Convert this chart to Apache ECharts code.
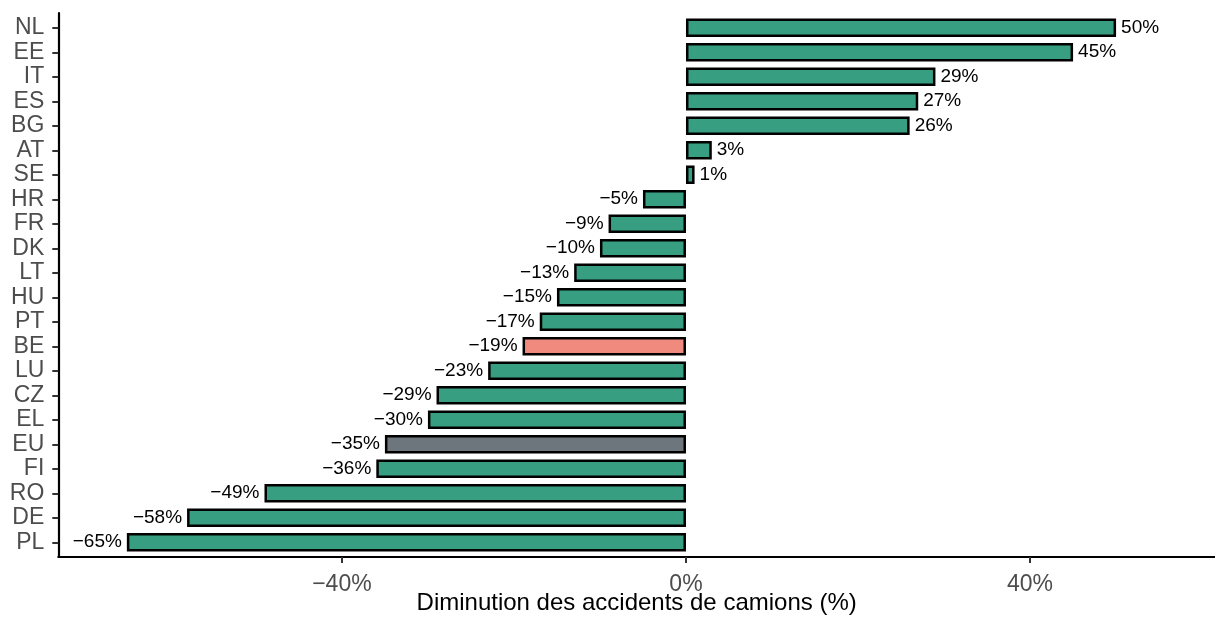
<!DOCTYPE html>
<html>
<head>
<meta charset="utf-8">
<script src="https://cdn.jsdelivr.net/npm/echarts@6/dist/echarts.min.js"></script>
<style>
html,body{margin:0;padding:0;background:#fff;}
#chart{width:1215px;height:620px;}
</style>
</head>
<body>
<div id="chart"></div>
<script>
const categories = ["NL","EE","IT","ES","BG","AT","SE","HR","FR","DK","LT","HU","PT","BE","LU","CZ","EL","EU","FI","RO","DE","PL"];
const values = [50,45,29,27,26,3,1,-5,-9,-10,-13,-15,-17,-19,-23,-29,-30,-35,-36,-49,-58,-65];
const xTicks = [-40, 0, 40];
const xTitle = "Diminution des accidents de camions (%)";

const GREEN = "#379e81", SALMON = "#f08a7f", GREY = "#6e767d";
function colorFor(c){ return c === "BE" ? SALMON : (c === "EU" ? GREY : GREEN); }
function pct(v){ return (v < 0 ? "\u2212" + Math.abs(v) : String(v)) + "%"; }

const XMIN = -72.97, XMAX = 61.5;
const FONT = "Liberation Sans, Arial, Helvetica, sans-serif";

const chart = echarts.init(document.getElementById("chart"), null, {renderer: "canvas"});
chart.setOption({
  animation: false,
  backgroundColor: "#fff",
  grid: [
    {left: 58.3, right: 0, top: 15.5, bottom: 65.5, containLabel: false, outerBoundsMode: "none"},
    {left: 58.3, right: 0, top: 13, bottom: 63, containLabel: false, outerBoundsMode: "none"}
  ],
  xAxis: [
    {gridIndex: 0, type: "value", min: XMIN, max: XMAX, show: false},
    {gridIndex: 1, type: "value", min: XMIN, max: XMAX,
      axisLine: {show: true, onZero: false, lineStyle: {color: "#000", width: 2.2}},
      axisTick: {show: true, length: 6, customValues: xTicks, lineStyle: {color: "#333", width: 2}},
      axisLabel: {customValues: xTicks, formatter: v => pct(v), color: "#4d4d4d", fontSize: 23, fontFamily: FONT, margin: 16},
      splitLine: {show: false},
      name: xTitle, nameLocation: "middle", nameGap: 34, nameMoveOverlap: false,
      nameTextStyle: {color: "#000", fontSize: 24, fontFamily: FONT, verticalAlign: "top"}
    }
  ],
  yAxis: [
    {gridIndex: 0, type: "category", data: categories, inverse: true,
      axisLine: {show: false, onZero: false},
      axisTick: {show: true, interval: 0, alignWithLabel: true, length: 6, lineStyle: {color: "#333", width: 2}},
      axisLabel: {interval: 0, color: "#4d4d4d", fontSize: 23, fontFamily: FONT, margin: 14},
      splitLine: {show: false}
    },
    {gridIndex: 1, type: "value", min: 0, max: 1,
      axisLine: {show: true, onZero: false, lineStyle: {color: "#000", width: 2.2}},
      axisTick: {show: false}, axisLabel: {show: false}, splitLine: {show: false}
    }
  ],
  series: [{
    type: "bar",
    xAxisIndex: 0, yAxisIndex: 0,
    barWidth: "76%",
    data: values.map((v, i) => ({
      value: v,
      itemStyle: {color: colorFor(categories[i]), borderColor: "#000", borderWidth: 2.5},
      label: {show: true, position: v < 0 ? "left" : "right", distance: 5,
        formatter: () => pct(v), color: "#000", fontSize: 19, fontFamily: FONT}
    }))
  }]
});
</script>
</body>
</html>
